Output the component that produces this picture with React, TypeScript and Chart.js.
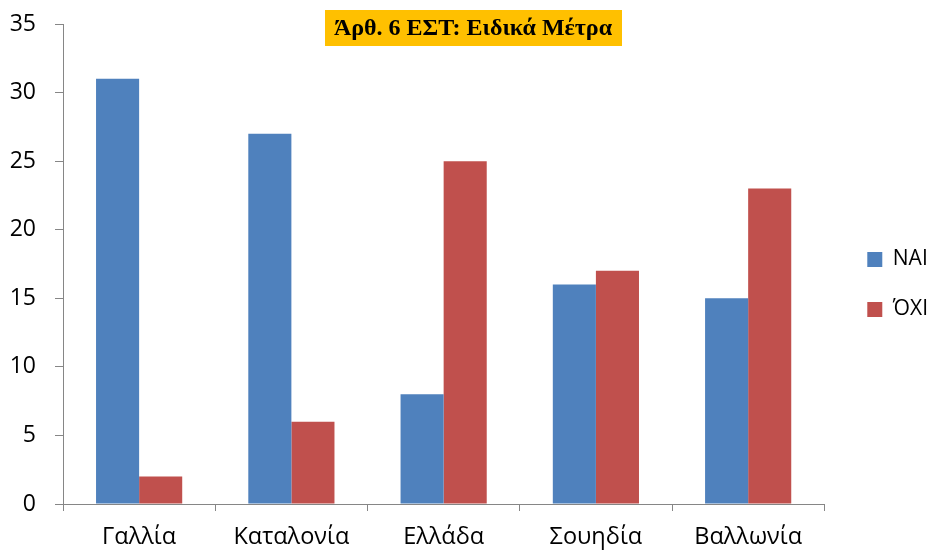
import React, { useEffect, useRef } from "react";
import { Chart, registerables } from "chart.js";

Chart.register(...registerables);

const categories = ["Γαλλία", "Καταλονία", "Ελλάδα", "Σουηδία", "Βαλλωνία"];
const naiValues = [31, 27, 8, 16, 15];
const oxiValues = [2, 6, 25, 17, 23];
const seriesLabels = ["ΝΑΙ", "ΌΧΙ"];
const titleText = "Άρθ. 6 ΕΣΤ: Ειδικά Μέτρα";

const FONT = "'Open Sans', 'Noto Sans', sans-serif";

const titleBoxPlugin = {
  id: "titleBox",
  afterLayout(chart: any) {
    const lg = chart.legend;
    if (lg) {
      lg.top -= 3;
      lg.bottom -= 3;
    }
  },
  afterDraw(chart: any) {
    const ctx = chart.ctx;
    ctx.save();
    ctx.font = "bold 24px 'Liberation Serif', 'Times New Roman', serif";
    ctx.fillStyle = "#FFC000";
    ctx.fillRect(325, 10, 297, 36);
    ctx.fillStyle = "#000000";
    ctx.textAlign = "center";
    ctx.textBaseline = "middle";
    ctx.fillText(titleText, 473, 29);
    ctx.restore();
  },
};

export default function App() {
  const ref = useRef<HTMLCanvasElement | null>(null);
  useEffect(() => {
    if (!ref.current) return;
    const chart = new Chart(ref.current, {
      type: "bar",
      data: {
        labels: categories,
        datasets: [
          {
            label: seriesLabels[0],
            data: naiValues,
            backgroundColor: "#4F81BD",
            barPercentage: 1,
            categoryPercentage: 0.566,
          },
          {
            label: seriesLabels[1],
            data: oxiValues,
            backgroundColor: "#C0504D",
            barPercentage: 1,
            categoryPercentage: 0.566,
          },
        ],
      },
      plugins: [titleBoxPlugin],
      options: {
        responsive: false,
        animation: false,
        layout: { padding: { top: 24, right: -8, bottom: 0, left: 0 } },
        plugins: {
          title: { display: false },
          tooltip: { enabled: false },
          legend: {
            position: "right",
            labels: {
              boxWidth: 15,
              boxHeight: 15,
              padding: 29,
              color: "#000000",
              font: { family: FONT, size: 21 },
            },
          },
        },
        scales: {
          x: {
            grid: {
              display: true,
              offset: true,
              drawOnChartArea: false,
              drawTicks: true,
              tickLength: 7,
              color: "#868686",
            },
            border: { display: true, color: "#868686", width: 1 },
            ticks: {
              color: "#000000",
              padding: 12,
              font: { family: FONT, size: 23.5 },
            },
            afterFit(scale: any) {
              scale.height = 47;
            },
          },
          y: {
            min: 0,
            max: 35,
            ticks: {
              stepSize: 5,
              color: "#000000",
              padding: 19,
              font: { family: FONT, size: 23 },
            },
            grid: {
              display: true,
              drawOnChartArea: false,
              drawTicks: true,
              tickLength: 8,
              color: "#868686",
            },
            border: { display: true, color: "#868686", width: 1 },
            afterFit(scale: any) {
              scale.width = 63;
              scale.paddingTop = 0;
              scale.paddingBottom = 0;
            },
          },
          y2: {
            position: "right",
            display: true,
            min: 0,
            max: 35,
            ticks: { display: false },
            grid: { display: false, drawTicks: false },
            border: { display: false },
            afterFit(scale: any) {
              scale.width = 14;
              scale.paddingTop = 0;
              scale.paddingBottom = 0;
            },
          },
        },
      },
    });
    return () => chart.destroy();
  }, []);
  return (
    <div style={{ position: "fixed", left: 0, top: 0, width: 930, height: 551, background: "#fff" }}>
      <canvas ref={ref} width={930} height={551} style={{ width: 930, height: 551 }} />
    </div>
  );
}
